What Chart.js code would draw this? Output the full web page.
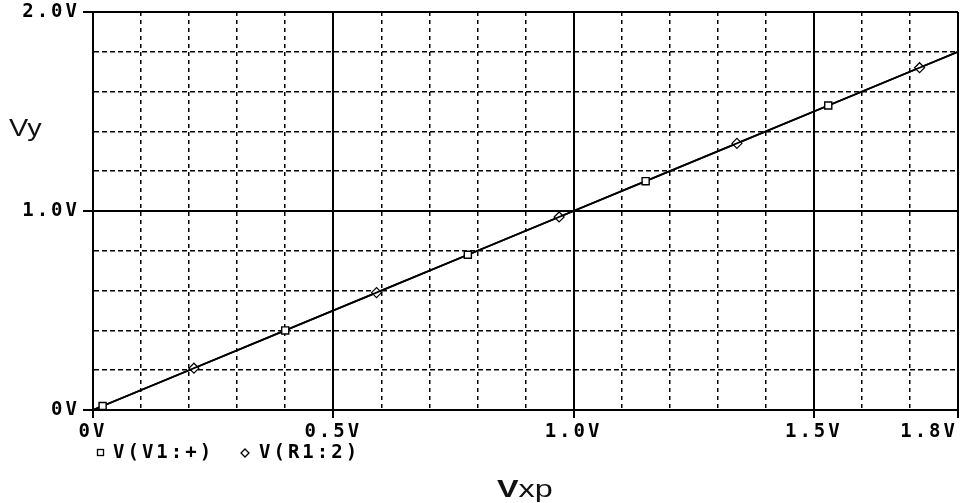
<!DOCTYPE html>
<html>
<head>
<meta charset="utf-8">
<script src="https://cdn.jsdelivr.net/npm/chart.js@4.4.1/dist/chart.umd.min.js"></script>
<style>
  html, body { margin: 0; padding: 0; background: #fff; }
  #wrap { width: 963px; height: 503px; }
</style>
</head>
<body>
<div id="wrap"><canvas id="chart" width="963" height="503"></canvas></div>
<script>
// sweep of Vxp where each trace has a marker (ends have none)
const vxpSquare = [0, 0.02, 0.40, 0.78, 1.15, 1.53, 1.80];
const vV1 = [0, 0.02, 0.40, 0.78, 1.15, 1.53, 1.80];
const vxpDiamond = [0, 0.21, 0.59, 0.97, 1.34, 1.72, 1.80];
const vR1 = [0, 0.21, 0.59, 0.97, 1.34, 1.72, 1.80];

const seriesNames = ['V(V1:+)', 'V(R1:2)'];
const xLabels = { 0: '0V', 5: '0.5V', 10: '1.0V', 15: '1.5V', 18: '1.8V    ' };
const yLabels = { 0: '0V', 10: '1.0V', 20: '2.0V' };

const MONO = { family: '"DejaVu Sans Mono", monospace', size: 19, weight: 'bold' };
const SPACING = '3px';

const toPoints = (xs, ys) => xs.map((x, i) => ({ x, y: ys[i] }));
const markerRadius = (n) => (c) => (c.dataIndex === 0 || c.dataIndex === n - 1) ? 0 : 5;

const xMajor = (v) => xLabels[Math.round(v * 10)] !== undefined;
const yMajor = (v) => yLabels[Math.round(v * 10)] !== undefined;

// letter spacing for the wide plotter font, plus the axis names and legend
const plotterText = {
  id: 'plotterText',
  beforeDraw(chart) {
    chart.ctx.letterSpacing = SPACING;
  },
  afterDraw(chart) {
    const ctx = chart.ctx;
    ctx.save();
    ctx.fillStyle = '#111';
    ctx.textBaseline = 'alphabetic';
    ctx.letterSpacing = '0px';

    // Vy
    ctx.save();
    ctx.translate(9, 136);
    ctx.scale(1.2, 1);
    ctx.font = '24px "Liberation Sans", Arial, sans-serif';
    ctx.fillText('Vy', 0, 0);
    ctx.restore();

    // Vxp (V bold, xp regular)
    ctx.save();
    ctx.translate(497, 497);
    ctx.scale(1.35, 1);
    ctx.font = 'bold 24px "Liberation Sans", Arial, sans-serif';
    ctx.fillText('V', 0, 0);
    const w = ctx.measureText('V').width;
    ctx.font = '24px "Liberation Sans", Arial, sans-serif';
    ctx.fillText('xp', w, 0);
    ctx.restore();

    // legend
    ctx.letterSpacing = SPACING;
    ctx.font = 'bold 19px "DejaVu Sans Mono", monospace';
    ctx.textBaseline = 'middle';
    ctx.fillStyle = '#000';
    ctx.strokeStyle = '#000';
    ctx.lineWidth = 1.3;
    ctx.strokeRect(97.5, 449.5, 6, 6);
    ctx.fillText(seriesNames[0], 113, 453);
    ctx.beginPath();
    ctx.moveTo(245, 449); ctx.lineTo(249, 453); ctx.lineTo(245, 457); ctx.lineTo(241, 453);
    ctx.closePath();
    ctx.stroke();
    ctx.fillText(seriesNames[1], 259, 453);
    ctx.restore();
  }
};

new Chart(document.getElementById('chart'), {
  type: 'scatter',
  data: {
    datasets: [
      {
        label: seriesNames[0],
        data: toPoints(vxpSquare, vV1),
        showLine: true,
        borderColor: '#000',
        borderWidth: 1.8,
        pointStyle: 'rect',
        pointRadius: markerRadius(vxpSquare.length),
        pointBorderWidth: 1.4,
        pointBorderColor: '#000',
        pointBackgroundColor: '#fff',
      },
      {
        label: seriesNames[1],
        data: toPoints(vxpDiamond, vR1),
        showLine: true,
        borderColor: '#000',
        borderWidth: 1.8,
        pointStyle: 'rectRot',
        pointRadius: markerRadius(vxpDiamond.length),
        pointBorderWidth: 1.2,
        pointBorderColor: '#000',
        pointBackgroundColor: '#fff',
      }
    ]
  },
  options: {
    responsive: false,
    devicePixelRatio: 1,
    animation: false,
    layout: { padding: { left: 0, right: 5, top: 12, bottom: 0 } },
    plugins: {
      legend: { display: false },
      tooltip: { enabled: false },
    },
    scales: {
      x: {
        type: 'linear',
        min: 0,
        max: 1.8,
        afterFit: (s) => { s.height = 93; s.paddingLeft = 0; s.paddingRight = 0; },
        ticks: {
          stepSize: 0.1,
          autoSkip: false,
          maxRotation: 0,
          padding: 3,
          color: '#000',
          font: MONO,
          callback: (v) => xLabels[Math.round(v * 10)] || '',
        },
        grid: {
          color: '#000',
          lineWidth: (c) => c.tick && xMajor(c.tick.value) ? 2 : 1.5,
          tickLength: 8,
          tickColor: '#000',
          tickWidth: (c) => c.tick && xMajor(c.tick.value) ? 2 : 0,
        },
        border: {
          display: true,
          color: '#000',
          width: 2,
          dash: (c) => (c.tick && !xMajor(c.tick.value)) ? [4, 4] : [],
        },
      },
      y: {
        type: 'linear',
        min: 0,
        max: 2,
        afterFit: (s) => { s.width = 93; s.paddingTop = 0; s.paddingBottom = 0; },
        ticks: {
          stepSize: 0.2,
          autoSkip: false,
          padding: 3,
          color: '#000',
          font: MONO,
          callback: (v) => yLabels[Math.round(v * 10)] || '',
        },
        grid: {
          color: '#000',
          lineWidth: (c) => c.tick && yMajor(c.tick.value) ? 2 : 1.5,
          tickLength: 10,
          tickColor: '#000',
          tickWidth: (c) => c.tick && yMajor(c.tick.value) ? 2 : 0,
        },
        border: {
          display: true,
          color: '#000',
          width: 2,
          dash: (c) => (c.tick && !yMajor(c.tick.value)) ? [5, 3] : [],
        },
      }
    }
  },
  plugins: [plotterText]
});
</script>
</body>
</html>
